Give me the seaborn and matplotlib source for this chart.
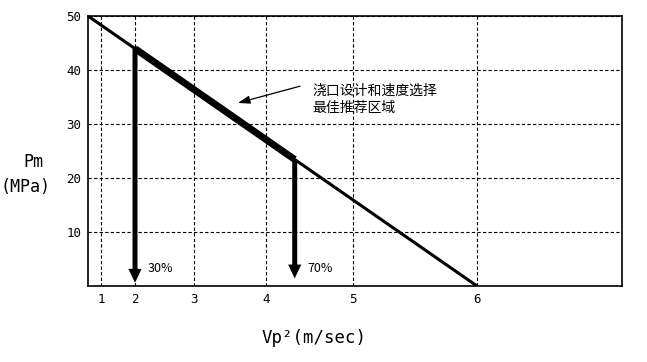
import numpy as np
import pandas as pd
import matplotlib.pyplot as plt
import seaborn as sns

# chart values
line_x = [0.6, 6.0]          # Vp^2 at the ends of the line
line_y = [50.0, 0.0]         # Pm (MPa)
range_x = [2.0, 4.33]        # 30% / 70% points
range_labels = ['30%', '70%']
arrow_tip_y = [0.6, 1.4]
x_ticks = [1, 2, 3, 4, 5, 6]
y_ticks = [10, 20, 30, 40, 50]
note = '浇口设计和速度选择\n最佳推荐区域'

# the Vp^2 axis is not evenly spaced: place of each tick on the drawn axis
x_scale_vals = [0.6, 1, 2, 3, 4, 5, 6, 7.17]
x_scale_pos = [88, 101, 135, 194, 266, 353, 477, 622]


def fwd(v):
    return np.interp(v, x_scale_vals, x_scale_pos)


def inv(p):
    return np.interp(p, x_scale_pos, x_scale_vals)


sns.set_theme(style='white')
plt.rcParams['font.family'] = ['Noto Sans CJK SC', 'DejaVu Sans']
plt.rcParams['text.color'] = 'black'
plt.rcParams['xtick.color'] = 'black'
plt.rcParams['ytick.color'] = 'black'
mono = ['DejaVu Sans Mono', 'DejaVu Sans']

fig = plt.figure(figsize=(6.47, 3.62), dpi=100)
ax = fig.add_axes([88 / 647, 76 / 362, 534 / 647, 270 / 362])
ax.set_xscale('function', functions=(fwd, inv))

df = pd.DataFrame({'x': line_x, 'y': line_y})
sns.lineplot(data=df, x='x', y='y', color='black', lw=2.2, ax=ax)

# points of the recommended range lie on the line (straight on the drawn axis)
range_y = np.interp(fwd(np.array(range_x)), fwd(np.array(line_x)), line_y)
ax.plot(range_x, range_y, color='black', lw=5, solid_capstyle='butt')

for xv, yv, tip, lab in zip(range_x, range_y, arrow_tip_y, range_labels):
    ax.annotate('', xy=(xv, tip), xytext=(xv, yv),
                arrowprops=dict(width=3.6, headwidth=9.5, headlength=10,
                                lw=0, color='black', shrink=0))
    ax.text(inv(fwd(xv) + 13), 3.2, lab, fontsize=9, va='center', ha='left')

ax.annotate('', xy=(3.61, 33.9), xytext=(4.39, 37.0),
            arrowprops=dict(arrowstyle='-|>,head_length=0.6,head_width=0.2',
                            lw=0.9, color='black', shrinkA=0, shrinkB=0))
ax.text(4.53, 34.6, note, fontsize=10, va='center', ha='left', linespacing=1.25)

ax.set_xlim(x_scale_vals[0], x_scale_vals[-1])
ax.set_ylim(0, 50)
ax.set_xticks(x_ticks)
ax.set_yticks(y_ticks)
ax.tick_params(length=0, labelsize=9, pad=5)
for t in ax.get_xticklabels() + ax.get_yticklabels():
    t.set_family(mono)
ax.grid(True, color='black', ls=(0, (3, 2)), lw=0.8)
for s in ax.spines.values():
    s.set_color('black')
    s.set_linewidth(1.2)
ax.set_xlabel('')
ax.set_ylabel('')

fig.text(33 / 647, 1 - 162 / 362, 'Pm', fontsize=12, ha='center', va='center', family=mono)
fig.text(25 / 647, 1 - 187 / 362, '(MPa)', fontsize=12, ha='center', va='center', family=mono)
fig.text(314 / 647, 1 - 338 / 362, 'Vp²(m/sec)', fontsize=12.5, ha='center', va='center', family=mono)

fig.savefig('out.png', dpi=100)
